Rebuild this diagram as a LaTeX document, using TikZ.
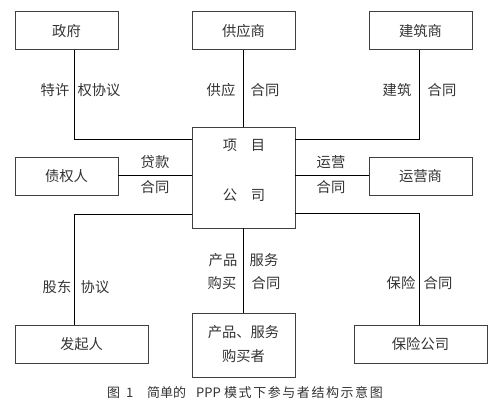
\documentclass[tikz,border=0pt]{standalone}
\usepackage{fontspec}
\setmainfont{Noto Sans CJK SC}
\newfontfamily\capspaced[LetterSpace=12]{Noto Sans CJK SC}
\begin{document}
\begin{tikzpicture}[x=1pt,y=-1pt,
  box/.style={draw=black!75,line width=1pt,inner sep=0pt},
  lbl/.style={font=\fontsize{14.3}{16}\selectfont,text=black!80,inner sep=0pt},
  captext/.style={font=\fontsize{13}{14}\selectfont,text=black!80,inner sep=0pt,anchor=west},
  conn/.style={draw=black,line width=0.8pt}]
\useasboundingbox (0,0) rectangle (495,404);
% boxes
\draw[box] (15,12) rectangle (118,50) node[midway,lbl] (zf) {政府};
\draw[box] (192,12) rectangle (295,50) node[midway,lbl] (gys) {供应商};
\draw[box] (369,12) rectangle (472,50) node[midway,lbl] (jzs) {建筑商};
\draw[box] (192,127) rectangle (295,228);
\draw[box] (15,157) rectangle (118,195) node[midway,lbl] (zqr) {债权人};
\draw[box] (369,157) rectangle (472,195) node[midway,lbl] (yys) {运营商};
\draw[box] (15,325) rectangle (148,363) node[midway,lbl] (fqr) {发起人};
\draw[box] (192,313) rectangle (295,377);
\draw[box] (354,325) rectangle (487,363) node[midway,lbl] (bxgs) {保险公司};
\node[lbl] (cp1) at (243.5,332) {产品、服务};
\node[lbl] (cp2) at (243.5,356) {购买者};
% center text
\node[lbl] (x1) at (230,145) {项};
\node[lbl] (x2) at (258,145) {目};
\node[lbl] (x3) at (230,195) {公};
\node[lbl] (x4) at (258,195) {司};
% connectors
\coordinate (a1) at (74,50); \coordinate (a2) at (74,139); \coordinate (a3) at (192,139);
\draw[conn] (a1) -- (a2) -- (a3);
\coordinate (b1) at (243,50); \coordinate (b2) at (243,127);
\draw[conn] (b1) -- (b2);
\coordinate (c1) at (419,50); \coordinate (c2) at (419,139); \coordinate (c3) at (295,139);
\draw[conn] (c1) -- (c2) -- (c3);
\coordinate (d1) at (118,175); \coordinate (d2) at (192,175);
\draw[conn] (d1) -- (d2);
\coordinate (e1) at (295,175); \coordinate (e2) at (369,175);
\draw[conn] (e1) -- (e2);
\coordinate (f1) at (192,214); \coordinate (f2) at (74,214); \coordinate (f3) at (74,325);
\draw[conn] (f1) -- (f2) -- (f3);
\coordinate (g1) at (243,228); \coordinate (g2) at (243,313);
\draw[conn] (g1) -- (g2);
\coordinate (h1) at (295,213); \coordinate (h2) at (419,213); \coordinate (h3) at (419,325);
\draw[conn] (h1) -- (h2) -- (h3);
% labels
\node[lbl] (l1) at (55,90) {特许};
\node[lbl] (l2) at (99,90) {权协议};
\node[lbl] (l3) at (221,90) {供应};
\node[lbl] (l4) at (265,90) {合同};
\node[lbl] (l5) at (397,90) {建筑};
\node[lbl] (l6) at (442,90) {合同};
\node[lbl] (l7) at (155,162) {贷款};
\node[lbl] (l8) at (155,187) {合同};
\node[lbl] (l9) at (331,162) {运营};
\node[lbl] (l10) at (331,187) {合同};
\node[lbl] (l11) at (57,287) {股东};
\node[lbl] (l12) at (95,287) {协议};
\node[lbl] (l13) at (223,260) {产品};
\node[lbl] (l14) at (222,283) {购买};
\node[lbl] (l15) at (264,260) {服务};
\node[lbl] (l16) at (266,283) {合同};
\node[lbl] (l17) at (401,283) {保险};
\node[lbl] (l18) at (438,283) {合同};
% caption
\node[captext] (capa) at (107,393) {图};
\node[captext] (capb) at (126,393) {1};
\node[captext] (capc) at (147,393) {简单的};
\node[captext] (capd) at (196,393) {PPP};
\node[captext,font=\fontsize{13}{14}\capspaced] (cape) at (224,393) {模式下参与者结构示意图};
\end{tikzpicture}
\end{document}
